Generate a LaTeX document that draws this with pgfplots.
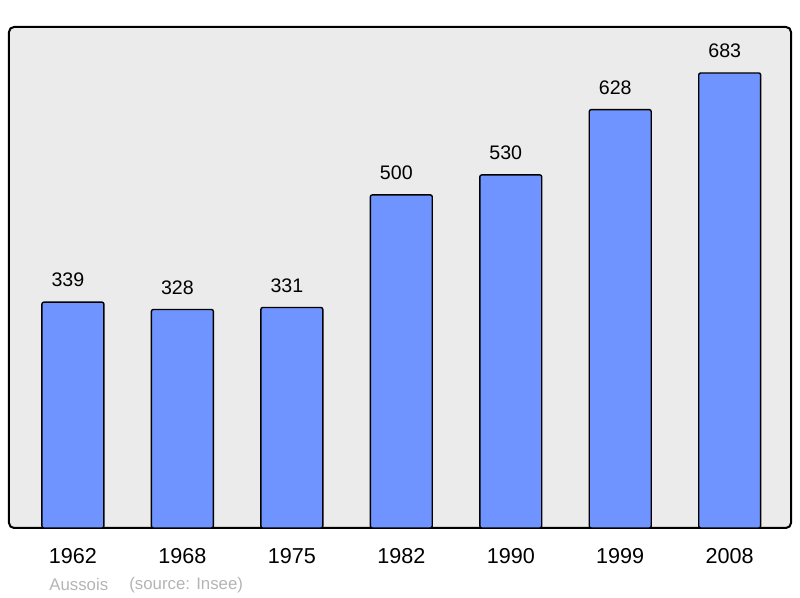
\documentclass[border=0pt]{standalone}
\usepackage{pgfplots}
\pgfplotsset{compat=1.18}
\usepackage{fontspec}
\setmainfont{Liberation Sans}
\definecolor{barblue}{RGB}{112,148,255}
\definecolor{bggray}{RGB}{235,235,235}
\definecolor{srcgray}{RGB}{180,180,180}
\begin{document}
\begin{tikzpicture}
\useasboundingbox (0,0) rectangle (400pt,299pt);
\begin{axis}[
  at={(4.5pt,35pt)}, anchor=south west,
  scale only axis, width=391pt, height=250.5pt,
  xmin=-0.584, xmax=6.56, ymin=0, ymax=752,
  axis line style={draw=none},
  axis background/.style={fill=bggray, draw=black, line width=1pt, rounded corners=2.5pt},
  ytick=\empty,
  xtick=data,
  xticklabels={1962,1968,1975,1982,1990,1999,2008},
  major tick length=0pt,
  xticklabel style={anchor=center, yshift=-14pt, font=\fontsize{10.8}{12}\selectfont},
  /pgf/number format/assume math mode=true,
  nodes near coords,
  every node near coord/.append style={anchor=center, xshift=-2.5pt, yshift=11pt, font=\fontsize{9.8}{12}\selectfont, text=black},
  clip=false,
]
\addplot[ybar, bar width=0.566, fill=barblue, draw=black, line width=0.7pt, rounded corners=1pt] coordinates {
(0,339) (1,328) (2,331) (3,500) (4,530) (5,628) (6,683)
};
\end{axis}
\node[anchor=west, inner sep=0pt, text=srcgray, font=\fontsize{8.4}{10}\selectfont] at (24.5pt,6.5pt) {Aussois};
\node[anchor=west, inner sep=0pt, text=srcgray, font=\fontsize{8.4}{10}\selectfont] at (64.5pt,6.5pt) {(source: Insee)};
\end{tikzpicture}
\end{document}
